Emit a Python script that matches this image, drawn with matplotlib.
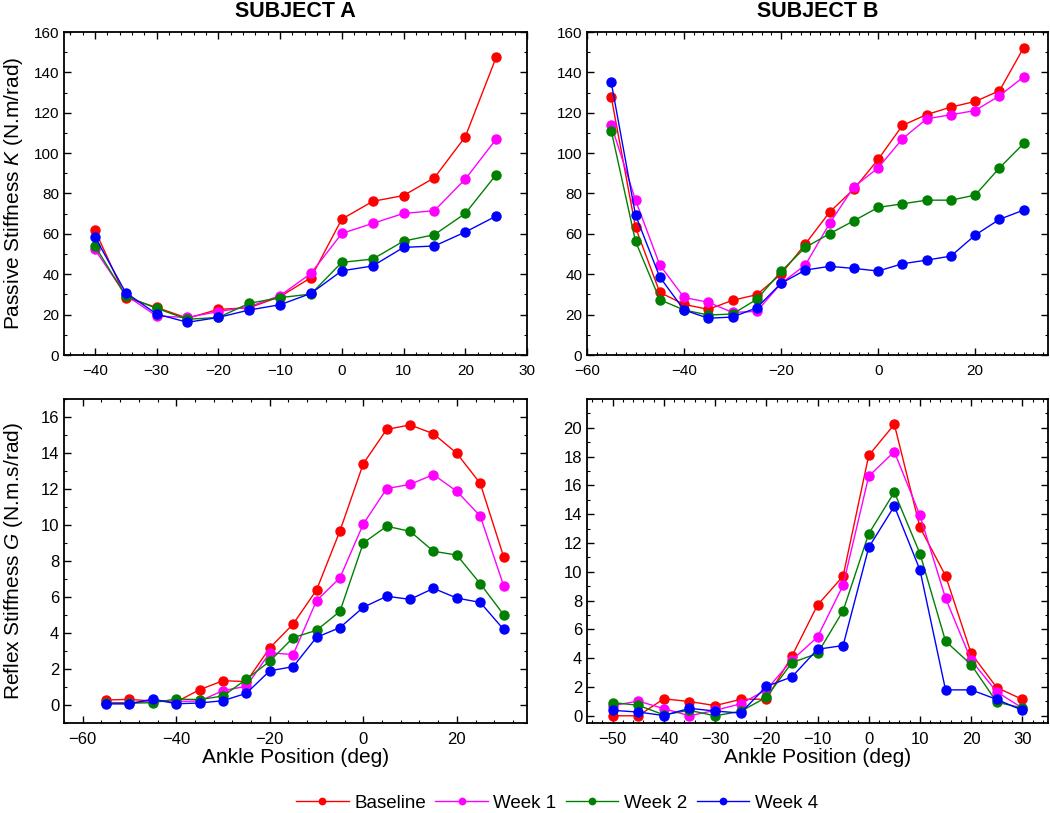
import matplotlib
matplotlib.use("Agg")
import matplotlib.pyplot as plt
from matplotlib.ticker import MultipleLocator

plt.rcParams['font.family'] = ['Liberation Sans', 'DejaVu Sans']
plt.rcParams['mathtext.fontset'] = 'custom'
plt.rcParams['mathtext.rm'] = 'Liberation Sans'
plt.rcParams['mathtext.it'] = 'Liberation Sans:italic'

series_names = ["Baseline", "Week 1", "Week 2", "Week 4"]
colors = ["#ff0000", "#ff00ff", "#008000", "#0000ff"]

# Subject A - passive stiffness
xA_pass = [-40, -35, -30, -25, -20, -15, -10, -5, 0, 5, 10, 15, 20, 25]
A_pass_base = [61.9, 28.4, 23.6, 18.2, 22.6, 23.4, 28.9, 38.3, 67.3, 76.1, 79.0, 87.8, 108.1, 147.4]
A_pass_w1 = [52.3, 29.7, 19.3, 18.6, 21.5, 23.9, 29.4, 40.4, 60.2, 65.2, 70.1, 71.5, 87.1, 106.9]
A_pass_w2 = [54.1, 29.2, 23.1, 17.7, 18.6, 25.6, 28.4, 30.2, 45.9, 47.5, 56.4, 59.6, 70.1, 89.3]
A_pass_w4 = [58.6, 30.9, 20.3, 16.2, 18.6, 22.3, 24.9, 30.5, 41.7, 44.1, 53.3, 54.0, 60.9, 68.8]

# Subject B - passive stiffness
xB_pass = [-55, -50, -45, -40, -35, -30, -25, -20, -15, -10, -5, 0, 5, 10, 15, 20, 25, 30]
B_pass_base = [127.7, 63.2, 31.0, 25.1, 22.6, 27.1, 29.9, 40.1, 55.0, 70.8, 82.2, 96.9, 113.7, 119.1, 122.8, 125.6, 130.9, 152.3]
B_pass_w1 = [113.9, 76.7, 44.6, 28.5, 26.1, 21.1, 21.6, 35.5, 44.6, 65.2, 83.3, 92.7, 107.1, 117.0, 119.0, 121.1, 128.4, 137.8]
B_pass_w2 = [111.1, 56.3, 27.4, 22.3, 19.8, 20.3, 27.6, 41.4, 53.3, 60.1, 66.5, 73.1, 74.9, 76.7, 76.7, 79.2, 92.7, 104.8]
B_pass_w4 = [135.0, 69.3, 38.6, 22.3, 18.2, 18.8, 23.4, 35.5, 42.1, 43.9, 42.9, 41.6, 45.2, 47.0, 49.0, 59.4, 67.2, 71.8]

# Subject A - reflex stiffness
xA_refl = [-55, -50, -45, -40, -35, -30, -25, -20, -15, -10, -5, 0, 5, 10, 15, 20, 25, 30]
A_refl_base = [0.28, 0.31, 0.22, 0.17, 0.85, 1.35, 1.30, 3.17, 4.50, 6.39, 9.67, 13.41, 15.31, 15.56, 15.07, 13.98, 12.31, 8.24]
A_refl_w1 = [0.13, 0.13, 0.22, 0.20, 0.22, 0.80, 1.04, 2.90, 2.80, 5.80, 7.06, 10.06, 12.02, 12.26, 12.80, 11.87, 10.50, 6.63]
A_refl_w2 = [0.10, 0.10, 0.13, 0.33, 0.30, 0.50, 1.43, 2.43, 3.74, 4.15, 5.20, 9.00, 9.93, 9.65, 8.54, 8.33, 6.74, 5.02]
A_refl_w4 = [0.06, 0.06, 0.33, 0.07, 0.11, 0.24, 0.65, 1.90, 2.13, 3.76, 4.30, 5.43, 6.04, 5.87, 6.48, 5.94, 5.70, 4.20]

# Subject B - reflex stiffness
xB_refl = [-50, -45, -40, -35, -30, -25, -20, -15, -10, -5, 0, 5, 10, 15, 20, 25, 30]
B_refl_base = [0.0, 0.0, 1.18, 0.99, 0.71, 1.14, 1.16, 4.14, 7.69, 9.70, 18.08, 20.24, 13.09, 9.73, 4.33, 1.96, 1.14]
B_refl_w1 = [0.71, 1.02, 0.50, 0.0, 0.38, 0.83, 1.80, 3.86, 5.47, 9.07, 16.64, 18.34, 13.92, 8.17, 3.86, 1.66, 0.54]
B_refl_w2 = [0.92, 0.73, 0.07, 0.38, 0.0, 0.31, 1.28, 3.69, 4.33, 7.29, 12.64, 15.53, 11.27, 5.18, 3.55, 0.95, 0.54]
B_refl_w4 = [0.38, 0.26, 0.02, 0.52, 0.33, 0.19, 2.04, 2.70, 4.62, 4.88, 11.69, 14.56, 10.13, 1.80, 1.80, 1.14, 0.38]

fig = plt.figure(figsize=(10.5, 8.13), dpi=100)

axA1 = fig.add_axes([64/1050, 1-355/813, 463/1050, 323/813])
axB1 = fig.add_axes([587/1050, 1-355/813, 461/1050, 323/813])
axA2 = fig.add_axes([64/1050, 1-723/813, 463/1050, 324/813])
axB2 = fig.add_axes([587/1050, 1-723/813, 461/1050, 324/813])

panels = [
    (axA1, xA_pass, [A_pass_base, A_pass_w1, A_pass_w2, A_pass_w4], (-45, 30), (0, 160), 10, 2, 20, 10, 11, 6.5),
    (axB1, xB_pass, [B_pass_base, B_pass_w1, B_pass_w2, B_pass_w4], (-60, 35), (0, 160), 20, 2, 20, 10, 11, 6.5),
    (axA2, xA_refl, [A_refl_base, A_refl_w1, A_refl_w2, A_refl_w4], (-64, 35), (-1, 17), 20, 4, 2, 1, 12, 6.5),
    (axB2, xB_refl, [B_refl_base, B_refl_w1, B_refl_w2, B_refl_w4], (-55, 35), (-0.5, 22), 10, 2, 2, 1, 12, 6.5),
]

lines = []
for ax, x, ys, xl, yl, xmaj, xmin, ymaj, ymin, fs, xpad in panels:
    for y, c, n in zip(ys, colors, series_names):
        ln, = ax.plot(x, y, '-o', color=c, lw=1.0, ms=6.5, label=n)
        if ax is axA1:
            lines.append(ln)
    ax.set_xlim(*xl)
    ax.set_ylim(*yl)
    ax.xaxis.set_major_locator(MultipleLocator(xmaj))
    ax.xaxis.set_minor_locator(MultipleLocator(xmin))
    ax.yaxis.set_major_locator(MultipleLocator(ymaj))
    ax.yaxis.set_minor_locator(MultipleLocator(ymin))
    ax.tick_params(which='both', direction='in', top=True, right=True, labelsize=fs)
    ax.tick_params(which='major', length=5, width=1.0)
    ax.tick_params(which='minor', length=2.5, width=0.8)
    ax.tick_params(axis='x', which='major', pad=xpad)
    ax.tick_params(axis='y', which='major', pad=3.5)
    for s in ax.spines.values():
        s.set_linewidth(1.3)

axA2.set_yticks([0, 2, 4, 6, 8, 10, 12, 14, 16])
axB2.set_yticks([0, 2, 4, 6, 8, 10, 12, 14, 16, 18, 20])

axA1.set_title("SUBJECT A", fontsize=15.5, fontweight='bold', pad=11)
axB1.set_title("SUBJECT B", fontsize=15.5, fontweight='bold', pad=11)

axA2.set_xlabel("Ankle Position (deg)", fontsize=15, labelpad=1)
axB2.set_xlabel("Ankle Position (deg)", fontsize=15, labelpad=1)

fig.text(14/1050, 1-193/813, r"Passive Stiffness $\mathit{K}$ (N.m/rad)", rotation=90,
         ha='center', va='center', fontsize=15)
fig.text(14/1050, 1-561/813, r"Reflex Stiffness $\mathit{G}$ (N.m.s/rad)", rotation=90,
         ha='center', va='center', fontsize=15)

fig.legend(lines, series_names, loc='center', bbox_to_anchor=(557/1050, 1-803/813), ncol=4,
           frameon=False, fontsize=13.5, handlelength=2.8, markerscale=0.7,
           columnspacing=0.5, handletextpad=0.3, borderpad=0.1)

fig.savefig("out.png", dpi=100)
